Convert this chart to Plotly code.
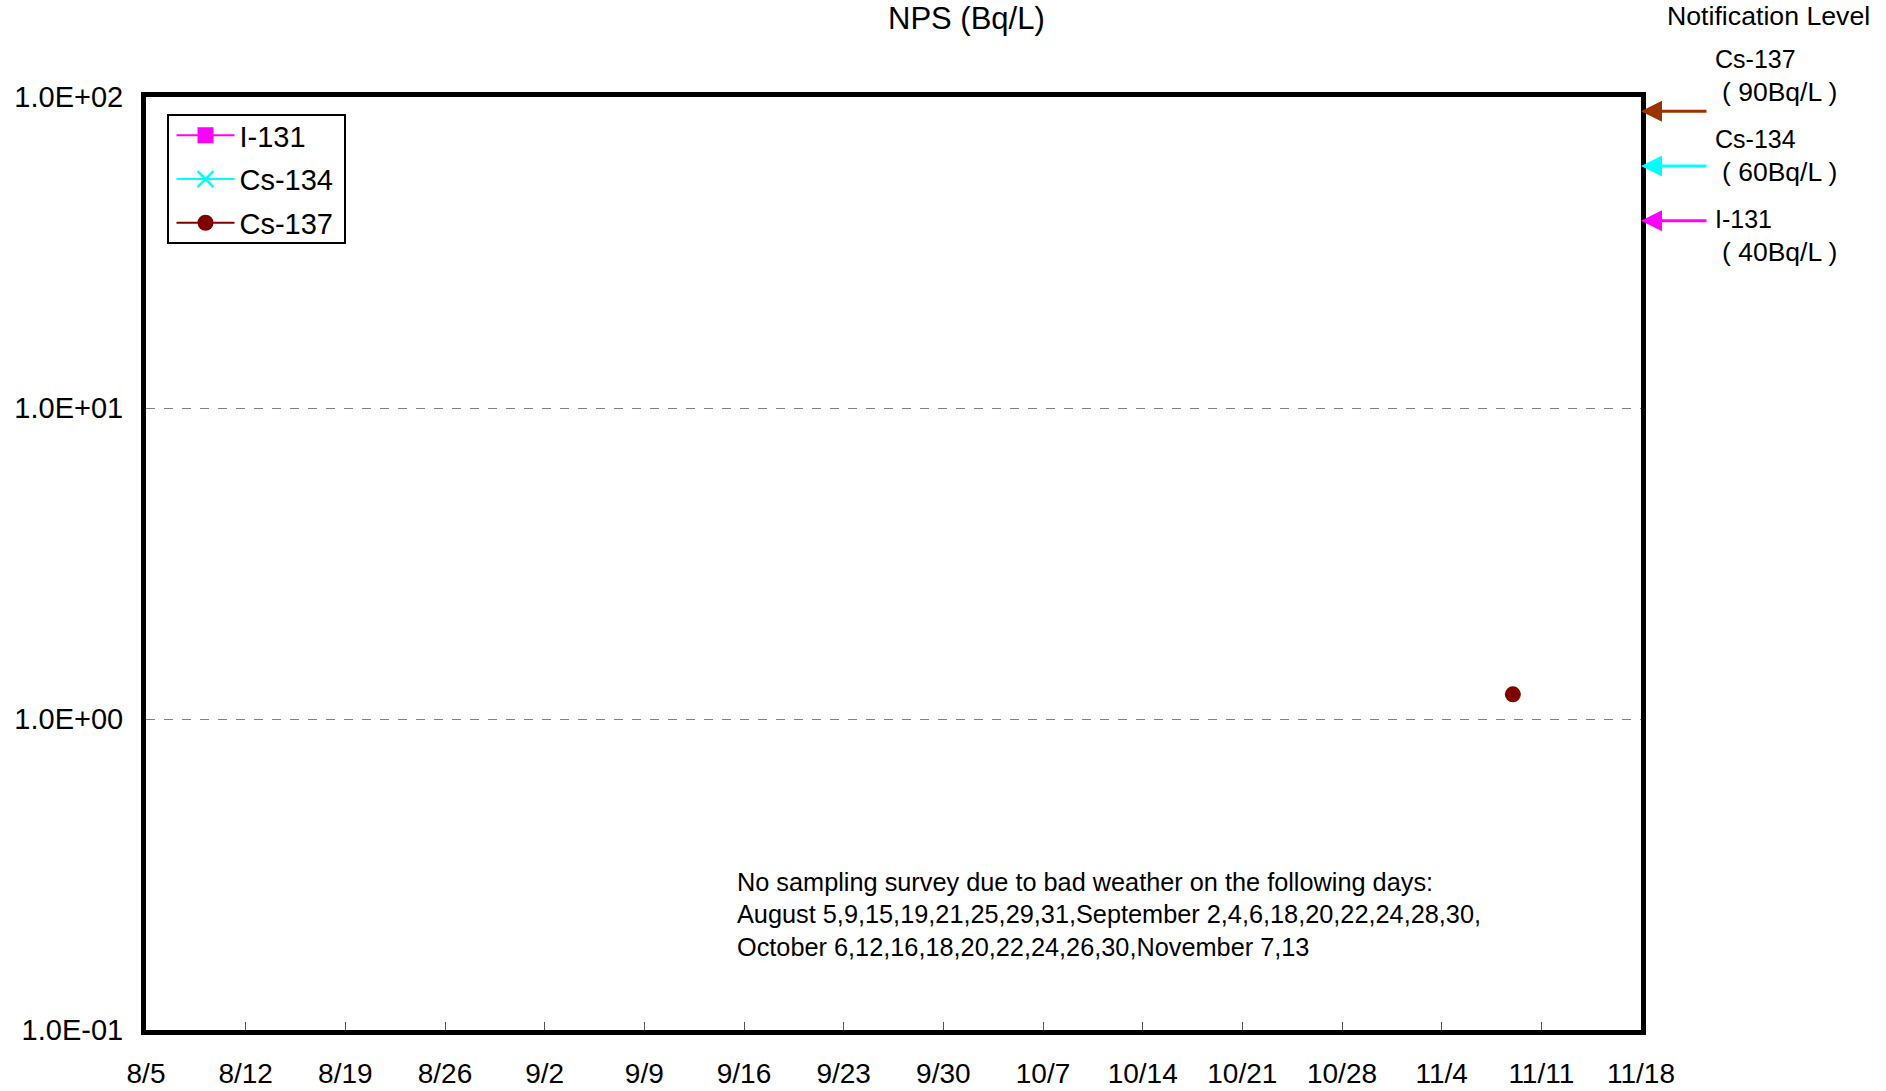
import math
import plotly.graph_objects as go

# ---------------- data ----------------
series_names = ["I-131", "Cs-134", "Cs-137"]
i131_dates = []
i131_values = []
cs134_dates = []
cs134_values = []
cs137_dates = ["2023-11-09"]
cs137_values = [1.2]

x_tick_dates = ["2023-08-05", "2023-08-12", "2023-08-19", "2023-08-26", "2023-09-02",
                "2023-09-09", "2023-09-16", "2023-09-23", "2023-09-30", "2023-10-07",
                "2023-10-14", "2023-10-21", "2023-10-28", "2023-11-04", "2023-11-11",
                "2023-11-18"]
x_tick_labels = ["8/5", "8/12", "8/19", "8/26", "9/2", "9/9", "9/16", "9/23", "9/30",
                 "10/7", "10/14", "10/21", "10/28", "11/4", "11/11", "11/18"]
y_tick_values = [0.1, 1, 10, 100]
y_tick_labels = ["1.0E-01", "1.0E+00", "1.0E+01", "1.0E+02"]

notif_names = ["Cs-137", "Cs-134", "I-131"]
notif_levels = [90, 60, 40]
notif_labels = ["( 90Bq/L )", "( 60Bq/L )", "( 40Bq/L )"]

note_lines = [
    "No sampling survey due to bad weather on the following days:",
    "August 5,9,15,19,21,25,29,31,September 2,4,6,18,20,22,24,28,30,",
    "October 6,12,16,18,20,22,24,26,30,November 7,13",
]

# ---------------- layout constants (pixels) ----------------
W, H = 1886, 1091
PL, PR, PT, PB = 146, 1641, 97, 1030   # plot-area edges
FONT = "Liberation Sans, Arial, sans-serif"


def px(xp):
    return (xp - PL) / (PR - PL)


def py(yp):
    return (PB - yp) / (PB - PT)


fig = go.Figure()
fig.add_trace(go.Scatter(x=i131_dates or [None], y=i131_values or [None], name=series_names[0],
                         mode="lines+markers", legendgroup="a",
                         line=dict(color="#FF00FF", width=2),
                         marker=dict(symbol="square", size=16, color="#FF00FF")))
fig.add_trace(go.Scatter(x=cs134_dates or [None], y=cs134_values or [None], name=series_names[1],
                         mode="lines+markers", legendgroup="b",
                         line=dict(color="#00FFFF", width=2),
                         marker=dict(symbol="x-thin", size=16, color="#00FFFF",
                                     line=dict(color="#00FFFF", width=2.5))))
fig.add_trace(go.Scatter(x=cs137_dates, y=cs137_values, name=series_names[2],
                         mode="lines+markers", legendgroup="c",
                         line=dict(color="#800000", width=2),
                         marker=dict(symbol="circle", size=16, color="#800000")))

annotations = []
annotations.append(dict(text="NPS (Bq/L)", xref="paper", yref="paper", x=px(966), y=py(18),
                        xanchor="center", yanchor="middle", showarrow=False,
                        font=dict(size=31, color="black", family=FONT)))
annotations.append(dict(text="Notification Level", xref="paper", yref="paper", x=px(1769), y=py(16),
                        xanchor="center", yanchor="middle", showarrow=False,
                        font=dict(size=26.7, color="black", family=FONT)))
arrow_colors = ["#993300", "#00FFFF", "#FF00FF"]
name_y = [59, 139, 219]
lvl_y = [91.5, 171.5, 251.5]
for nm, lv, lab, col, ny, ly in zip(notif_names, notif_levels, notif_labels, arrow_colors, name_y, lvl_y):
    annotations.append(dict(text="", xref="paper", yref="y", x=1.0, y=math.log10(lv),
                            showarrow=True, ax=67, ay=0, arrowhead=2, arrowsize=1.4,
                            arrowwidth=3, arrowcolor=col))
    annotations.append(dict(text=nm, xref="paper", yref="paper", x=px(1713), y=py(ny),
                            xanchor="left", yanchor="middle", showarrow=False,
                            font=dict(size=25, color="black", family=FONT)))
    annotations.append(dict(text=lab, xref="paper", yref="paper", x=px(1720), y=py(ly),
                            xanchor="left", yanchor="middle", showarrow=False,
                            font=dict(size=26.5, color="black", family=FONT)))
for i, line in enumerate(note_lines):
    annotations.append(dict(text=line, xref="paper", yref="paper", x=px(735), y=py(881.5 + 32.5 * i),
                            xanchor="left", yanchor="middle", showarrow=False,
                            font=dict(size=25.3, color="black", family=FONT)))

# legend frame drawn as a rectangle
shapes = [dict(type="rect", xref="paper", yref="paper",
               x0=px(168), x1=px(345), y0=py(243), y1=py(115),
               line=dict(color="black", width=2), fillcolor="rgba(0,0,0,0)", layer="below")]

fig.update_layout(
    width=W, height=H,
    margin=dict(l=PL, r=W - PR, t=PT, b=H - PB, autoexpand=False),
    paper_bgcolor="white", plot_bgcolor="white",
    font=dict(family=FONT, size=28, color="black"),
    showlegend=True,
    legend=dict(x=px(171.5), y=py(110), xanchor="left", yanchor="top",
                borderwidth=0, bgcolor="rgba(0,0,0,0)",
                font=dict(size=29, color="black", family=FONT),
                traceorder="grouped", tracegroupgap=3, itemwidth=58),
    annotations=annotations,
    shapes=shapes,
    xaxis=dict(type="date", range=[x_tick_dates[0], x_tick_dates[-1]],
               tickvals=x_tick_dates, ticktext=x_tick_labels,
               ticks="inside", ticklen=8, tickwidth=1, tickcolor="#555555",
               ticklabelstandoff=14, automargin=False,
               showgrid=False, zeroline=False,
               showline=True, linewidth=5, linecolor="black", mirror=True,
               tickfont=dict(size=28, color="black", family=FONT)),
    yaxis=dict(type="log", range=[-1, 2],
               tickvals=y_tick_values, ticktext=y_tick_labels,
               ticks="", ticklabelstandoff=12, automargin=False,
               showgrid=True, gridcolor="#808080", gridwidth=1, griddash="dash",
               zeroline=False,
               showline=True, linewidth=5, linecolor="black", mirror=True,
               tickfont=dict(size=29, color="black", family=FONT)),
)

fig.write_html("out.html", config={"displayModeBar": False},
               post_script="document.body.style.margin='0px';")
